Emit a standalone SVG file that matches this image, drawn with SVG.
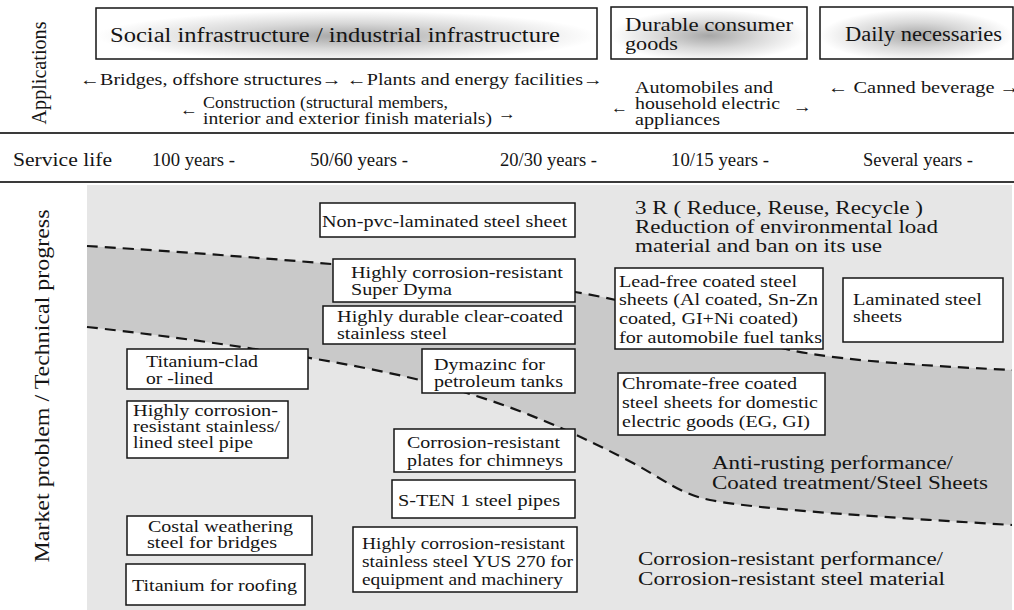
<svg xmlns="http://www.w3.org/2000/svg" width="1014" height="610" viewBox="0 0 1014 610" font-family="'Liberation Serif', 'DejaVu Serif', serif">
<style>
text{font-family:'Liberation Serif','DejaVu Serif',serif;fill:#151515}
.f20{font-size:20px}.f19{font-size:19px}.f17{font-size:17px}.f18{font-size:18px}.f16{font-size:16px}.f21{font-size:21px}
.box{fill:#fff;stroke:#151515;stroke-width:1.5}
.hbox{fill:url(#rg);stroke:#151515;stroke-width:1.5}
.rule{stroke:#3a3a3a;stroke-width:2.2}
.dash{fill:none;stroke:#151515;stroke-width:2.2;stroke-dasharray:11 7}
</style>
<defs>
<radialGradient id="rg" cx="0.5" cy="0.55" r="0.5">
<stop offset="0" stop-color="#a6a6a6"/>
<stop offset="0.5" stop-color="#d8d8d8"/>
<stop offset="1" stop-color="#ffffff"/>
</radialGradient>
</defs>
<rect x="0" y="0" width="1014" height="610" fill="#ffffff"/>

<g id="header">
<text class="f20" transform="translate(46,73) rotate(-90)" text-anchor="middle" textLength="103" lengthAdjust="spacingAndGlyphs">Applications</text>
<g id="app-social">
<rect class="hbox" x="96" y="8" width="501" height="51"/>
<text class="f20" x="110" y="42" textLength="450" lengthAdjust="spacingAndGlyphs">Social infrastructure / industrial infrastructure</text>
</g>
<g id="app-durable">
<rect class="hbox" x="611" y="7" width="196" height="52"/>
<text class="f18" x="625" y="31" textLength="168" lengthAdjust="spacingAndGlyphs">Durable consumer</text>
<text class="f18" x="625" y="50" textLength="53" lengthAdjust="spacingAndGlyphs">goods</text>
</g>
<g id="app-daily">
<rect class="hbox" x="820" y="7" width="193" height="52"/>
<text class="f20" x="845" y="41" textLength="157" lengthAdjust="spacingAndGlyphs">Daily necessaries</text>
</g>
<g id="app-examples">
<text class="f16" x="80" y="85" textLength="523" lengthAdjust="spacingAndGlyphs">←Bridges, offshore structures→ ←Plants and energy facilities→</text>
<text class="f16" x="180" y="115" textLength="18" lengthAdjust="spacingAndGlyphs">←</text>
<text class="f16" x="203" y="108" textLength="245" lengthAdjust="spacingAndGlyphs">Construction (structural members,</text>
<text class="f16" x="203" y="124" textLength="289" lengthAdjust="spacingAndGlyphs">interior and exterior finish materials)</text>
<text class="f16" x="498" y="119" textLength="18" lengthAdjust="spacingAndGlyphs">→</text>
<text class="f16" x="611" y="113" textLength="17" lengthAdjust="spacingAndGlyphs">←</text>
<text class="f16" x="635" y="93" textLength="138" lengthAdjust="spacingAndGlyphs">Automobiles and</text>
<text class="f16" x="635" y="109" textLength="145" lengthAdjust="spacingAndGlyphs">household electric</text>
<text class="f16" x="635" y="125" textLength="85" lengthAdjust="spacingAndGlyphs">appliances</text>
<text class="f16" x="793" y="112" textLength="19" lengthAdjust="spacingAndGlyphs">→</text>
<text class="f17" x="828" y="93" textLength="192" lengthAdjust="spacingAndGlyphs">← Canned beverage →</text>
</g>
<line class="rule" x1="0" y1="133" x2="1014" y2="133"/>
<g id="service-life">
<text class="f18" x="13" y="166" textLength="99" lengthAdjust="spacingAndGlyphs">Service life</text>
<text class="f18" x="152" y="166" textLength="83" lengthAdjust="spacingAndGlyphs">100 years -</text>
<text class="f18" x="310" y="166" textLength="98" lengthAdjust="spacingAndGlyphs">50/60 years -</text>
<text class="f18" x="500" y="166" textLength="97" lengthAdjust="spacingAndGlyphs">20/30 years -</text>
<text class="f18" x="671" y="166" textLength="98" lengthAdjust="spacingAndGlyphs">10/15 years -</text>
<text class="f18" x="863" y="166" textLength="110" lengthAdjust="spacingAndGlyphs">Several years -</text>
</g>
<line class="rule" x1="0" y1="182" x2="1014" y2="182"/>
</g>

<rect x="87" y="185" width="925" height="425" fill="#e6e6e6"/>
<path d="M87,246 C200,253 420,268 575,292 C680,310 740,340 795,351 C850,362 950,367 1012,370 L1012,525 C900,518 760,510 710,500 C680,494 665,480 633,463 C560,425 500,400 420,380 C330,358 180,337 87,327 Z" fill="#c9c9c9"/>
<g id="boundaries">
<path class="dash" d="M87,246 C200,253 420,268 575,292 C680,310 740,340 795,351 C850,362 950,367 1012,370"/>
<path class="dash" d="M87,327 C180,337 330,358 420,380 C500,400 560,425 633,463 C665,480 680,494 710,500 C760,510 900,518 1012,525"/>
</g>
<text class="f21" transform="translate(49,386) rotate(-90)" text-anchor="middle" textLength="353" lengthAdjust="spacingAndGlyphs">Market problem / Technical progress</text>

<g id="region-labels">
<text class="f19" x="635" y="214" textLength="288" lengthAdjust="spacingAndGlyphs">3 R ( Reduce, Reuse, Recycle )</text>
<text class="f19" x="635" y="233" textLength="303" lengthAdjust="spacingAndGlyphs">Reduction of environmental load</text>
<text class="f19" x="635" y="252" textLength="247" lengthAdjust="spacingAndGlyphs">material and ban on its use</text>
<text class="f19" x="712" y="469" textLength="241" lengthAdjust="spacingAndGlyphs">Anti-rusting performance/</text>
<text class="f19" x="712" y="489" textLength="276" lengthAdjust="spacingAndGlyphs">Coated treatment/Steel Sheets</text>
<text class="f19" x="638" y="565" textLength="305" lengthAdjust="spacingAndGlyphs">Corrosion-resistant performance/</text>
<text class="f19" x="638" y="585" textLength="307" lengthAdjust="spacingAndGlyphs">Corrosion-resistant steel material</text>
</g>

<g id="n-nonpvc">
<rect class="box" x="320" y="203" width="255" height="34"/>
<text class="f17" x="322" y="227" textLength="245" lengthAdjust="spacingAndGlyphs">Non-pvc-laminated steel sheet</text>
</g>
<g id="n-superdyma">
<rect class="box" x="333" y="259" width="242" height="43"/>
<text class="f17" x="351" y="278" textLength="212" lengthAdjust="spacingAndGlyphs">Highly corrosion-resistant</text>
<text class="f17" x="351" y="295" textLength="101" lengthAdjust="spacingAndGlyphs">Super Dyma</text>
</g>
<g id="n-clearcoated">
<rect class="box" x="323" y="306" width="252" height="38"/>
<text class="f17" x="337" y="322" textLength="226" lengthAdjust="spacingAndGlyphs">Highly durable clear-coated</text>
<text class="f17" x="337" y="339" textLength="110" lengthAdjust="spacingAndGlyphs">stainless steel</text>
</g>
<g id="n-titaniumclad">
<rect class="box" x="127" y="349" width="181" height="40"/>
<text class="f17" x="146" y="367" textLength="112" lengthAdjust="spacingAndGlyphs">Titanium-clad</text>
<text class="f17" x="146" y="384" textLength="67" lengthAdjust="spacingAndGlyphs">or -lined</text>
</g>
<g id="n-dymazinc">
<rect class="box" x="422" y="349" width="153" height="44"/>
<text class="f17" x="434" y="370" textLength="111" lengthAdjust="spacingAndGlyphs">Dymazinc for</text>
<text class="f17" x="434" y="387" textLength="129" lengthAdjust="spacingAndGlyphs">petroleum tanks</text>
</g>
<g id="n-pipe">
<rect class="box" x="127" y="401" width="161" height="57"/>
<text class="f16" x="133" y="416" textLength="145" lengthAdjust="spacingAndGlyphs">Highly corrosion-</text>
<text class="f16" x="133" y="432" textLength="147" lengthAdjust="spacingAndGlyphs">resistant stainless/</text>
<text class="f16" x="133" y="448" textLength="120" lengthAdjust="spacingAndGlyphs">lined steel pipe</text>
</g>
<g id="n-chimney">
<rect class="box" x="394" y="429" width="181" height="43"/>
<text class="f17" x="407" y="448" textLength="153" lengthAdjust="spacingAndGlyphs">Corrosion-resistant</text>
<text class="f17" x="407" y="466" textLength="156" lengthAdjust="spacingAndGlyphs">plates for chimneys</text>
</g>
<g id="n-sten">
<rect class="box" x="392" y="480" width="183" height="38"/>
<text class="f17" x="398" y="506" textLength="162" lengthAdjust="spacingAndGlyphs">S-TEN 1 steel pipes</text>
</g>
<g id="n-costal">
<rect class="box" x="127" y="516" width="185" height="39"/>
<text class="f16" x="148" y="532" textLength="145" lengthAdjust="spacingAndGlyphs">Costal weathering</text>
<text class="f16" x="147" y="548" textLength="130" lengthAdjust="spacingAndGlyphs">steel for bridges</text>
</g>
<g id="n-yus">
<rect class="box" x="353" y="527" width="224" height="65"/>
<text class="f17" x="362" y="549" textLength="203" lengthAdjust="spacingAndGlyphs">Highly corrosion-resistant</text>
<text class="f17" x="362" y="567" textLength="211" lengthAdjust="spacingAndGlyphs">stainless steel YUS 270 for</text>
<text class="f17" x="362" y="585" textLength="201" lengthAdjust="spacingAndGlyphs">equipment and machinery</text>
</g>
<g id="n-roofing">
<rect class="box" x="126" y="564" width="179" height="41"/>
<text class="f17" x="132" y="591" textLength="165" lengthAdjust="spacingAndGlyphs">Titanium for roofing</text>
</g>
<g id="n-leadfree">
<rect class="box" x="615" y="268" width="208" height="81"/>
<text class="f17" x="619" y="287" textLength="178" lengthAdjust="spacingAndGlyphs">Lead-free coated steel</text>
<text class="f17" x="619" y="305" textLength="199" lengthAdjust="spacingAndGlyphs">sheets (Al coated, Sn-Zn</text>
<text class="f17" x="619" y="324" textLength="179" lengthAdjust="spacingAndGlyphs">coated, GI+Ni coated)</text>
<text class="f17" x="619" y="343" textLength="203" lengthAdjust="spacingAndGlyphs">for automobile fuel tanks</text>
</g>
<g id="n-laminated">
<rect class="box" x="843" y="278" width="160" height="64"/>
<text class="f17" x="853" y="305" textLength="129" lengthAdjust="spacingAndGlyphs">Laminated steel</text>
<text class="f17" x="853" y="322" textLength="49" lengthAdjust="spacingAndGlyphs">sheets</text>
</g>
<g id="n-chromate">
<rect class="box" x="618" y="373" width="207" height="62"/>
<text class="f17" x="622" y="389" textLength="175" lengthAdjust="spacingAndGlyphs">Chromate-free coated</text>
<text class="f17" x="622" y="408" textLength="196" lengthAdjust="spacingAndGlyphs">steel sheets for domestic</text>
<text class="f17" x="622" y="427" textLength="188" lengthAdjust="spacingAndGlyphs">electric goods (EG, GI)</text>
</g>
</svg>
